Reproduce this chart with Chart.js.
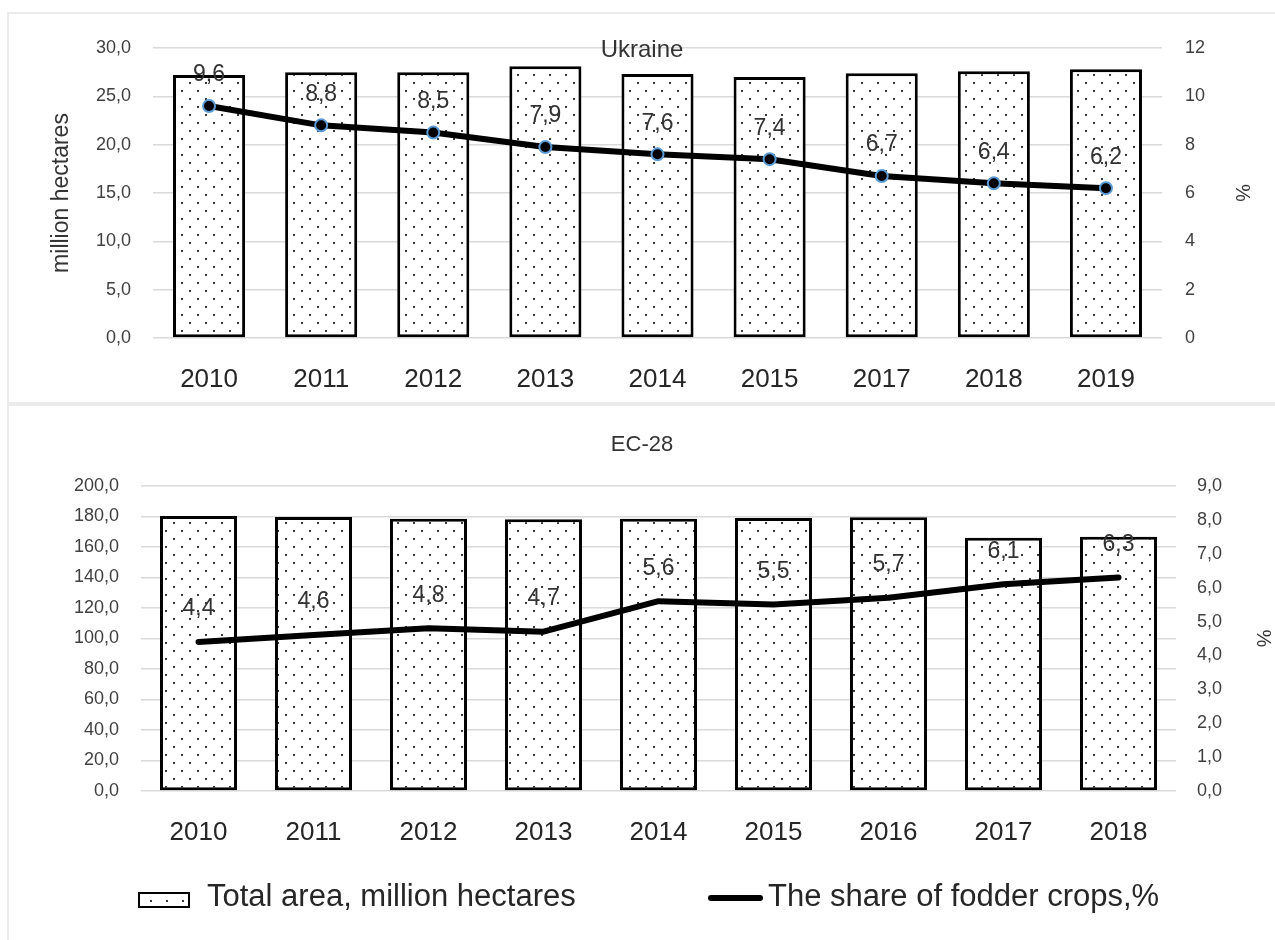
<!DOCTYPE html>
<html>
<head>
<meta charset="utf-8">
<title>Ukraine / EC-28 fodder crops</title>
<script src="https://cdn.jsdelivr.net/npm/chart.js@4.4.1/dist/chart.umd.min.js"></script>
<style>
  html, body { margin: 0; padding: 0; background: #fff; overflow: hidden; }
  body { width: 1275px; height: 940px; position: relative; font-family: "Liberation Sans", Arial, sans-serif; color: #333; }
  .panel { position: absolute; left: 7px; width: 1280px; border: 2px solid #ececec; box-sizing: border-box; }
  #uaPanel { top: 12px; height: 392px; }
  #ecPanel { top: 404px; height: 540px; }
  .panel canvas { position: absolute; left: 0; top: 0; }
  .legend-text { position: absolute; top: 878px; font-size: 31px; line-height: 36px; white-space: nowrap; color: #262626; }
  #swatch { position: absolute; left: 138px; top: 892px; }
  #lineKey { position: absolute; left: 708px; top: 895px; width: 55px; height: 6px; border-radius: 3px; background: #000; }
</style>
</head>
<body>
<div class="panel" id="uaPanel"><canvas id="uaChart" width="1266" height="388"></canvas></div>
<div class="panel" id="ecPanel"><canvas id="ecChart" width="1266" height="534"></canvas></div>

<canvas id="swatch" width="52" height="16"></canvas>
<span class="legend-text" style="left:207px">Total area, million hectares</span>
<div id="lineKey"></div>
<span class="legend-text" style="left:768px">The share of fodder crops,%</span>

<script>
// Ukraine
const uaYears = ["2010", "2011", "2012", "2013", "2014", "2015", "2017", "2018", "2019"];
const uaArea = [27.2, 27.5, 27.5, 28.1, 27.3, 27.0, 27.4, 27.6, 27.8];
const uaShare = [9.6, 8.8, 8.5, 7.9, 7.6, 7.4, 6.7, 6.4, 6.2];
const uaAreaTicks = ["0,0", "5,0", "10,0", "15,0", "20,0", "25,0", "30,0"];
const uaShareTicks = ["0", "2", "4", "6", "8", "10", "12"];

// EC-28
const ecYears = ["2010", "2011", "2012", "2013", "2014", "2015", "2016", "2017", "2018"];
const ecArea = [180.3, 179.7, 178.5, 178.2, 178.5, 179.0, 179.5, 166.0, 166.7];
const ecShare = [4.4, 4.6, 4.8, 4.7, 5.6, 5.5, 5.7, 6.1, 6.3];
const ecAreaTicks = ["0,0", "20,0", "40,0", "60,0", "80,0", "100,0", "120,0", "140,0", "160,0", "180,0", "200,0"];
const ecShareTicks = ["0,0", "1,0", "2,0", "3,0", "4,0", "5,0", "6,0", "7,0", "8,0", "9,0"];

const AREA_LABEL = "Total area, million hectares";
const SHARE_LABEL = "The share of fodder crops,%";

Chart.defaults.font.family = '"Liberation Sans", Arial, sans-serif';
Chart.defaults.color = "#333";

/* ==============================
   DOTTED FILL
============================== */
function makeDots(ctx) {
  const tile = document.createElement("canvas");
  tile.width = 16;
  tile.height = 16;
  const t = tile.getContext("2d");
  t.fillStyle = "#fff";
  t.fillRect(0, 0, 16, 16);
  t.fillStyle = "#3a3a3a";
  t.fillRect(4, 4, 2, 2);
  t.fillRect(12, 12, 2, 2);
  return ctx.createPattern(tile, "repeat");
}

/* ==============================
   PLUGINS
============================== */
const panelTitle = {
  id: "panelTitle",
  afterDraw(chart, args, opts) {
    const ctx = chart.ctx;
    ctx.save();
    ctx.font = `${opts.size}px "Liberation Sans", Arial, sans-serif`;
    ctx.fillStyle = "#333";
    ctx.textAlign = "center";
    ctx.textBaseline = "middle";
    ctx.fillText(opts.text, chart.width / 2, opts.y);
    ctx.restore();
  }
};

const valueLabels = {
  id: "valueLabels",
  afterDatasetsDraw(chart, args, opts) {
    const ctx = chart.ctx;
    ctx.save();
    ctx.font = `${opts.size}px "Liberation Sans", Arial, sans-serif`;
    ctx.fillStyle = "#333";
    ctx.textAlign = "center";
    ctx.textBaseline = "middle";
    chart.data.datasets.forEach((ds, i) => {
      if (ds.type !== "line") return;
      chart.getDatasetMeta(i).data.forEach((pt, j) => {
        const txt = ds.data[j].toFixed(1).replace(".", ",");
        ctx.fillText(txt, pt.x, pt.y - opts.offset);
      });
    });
    ctx.restore();
  }
};

/* ==============================
   CHART BUILDER
============================== */
function buildChart(canvasId, cfg) {
  const ctx = document.getElementById(canvasId).getContext("2d");
  const dots = makeDots(ctx);

  return new Chart(ctx, {
    type: "bar",
    data: {
      labels: cfg.years,
      datasets: [
        {
          type: "line",
          label: SHARE_LABEL,
          data: cfg.share,
          yAxisID: "yShare",
          borderColor: "#000",
          borderWidth: 6,
          borderJoinStyle: "round",
          borderCapStyle: "round",
          tension: 0,
          pointRadius: cfg.markers ? 6 : 0,
          pointBackgroundColor: "#000",
          pointBorderColor: "#5B9BD5",
          pointBorderWidth: 2,
          order: 1
        },
        {
          type: "bar",
          label: AREA_LABEL,
          data: cfg.area,
          yAxisID: "yArea",
          backgroundColor: dots,
          borderColor: "#000",
          borderWidth: 3,
          borderSkipped: false,
          barPercentage: cfg.barPct,
          categoryPercentage: 1,
          order: 2
        }
      ]
    },
    options: {
      responsive: false,
      animation: false,
      events: [],
      layout: { padding: { top: cfg.padTop, left: 0, right: 0, bottom: 0 } },
      plugins: {
        legend: { display: false },
        tooltip: { enabled: false },
        panelTitle: { text: cfg.title, y: cfg.titleY, size: cfg.titleSize },
        valueLabels: { offset: cfg.labelOffset, size: 23 }
      },
      scales: {
        x: {
          grid: { display: false },
          border: { display: false },
          ticks: { font: { size: 26 }, color: "#262626", padding: 18, maxRotation: 0 },
          afterFit: s => { s.height = cfg.xHeight; }
        },
        yArea: {
          position: "left",
          min: 0,
          max: cfg.areaMax,
          ticks: {
            stepSize: cfg.areaStep,
            padding: 22,
            font: { size: 18 },
            color: "#404040",
            callback: (v, i) => cfg.areaTicks[i]
          },
          grid: { color: "#d9d9d9", lineWidth: 1.5, drawTicks: false },
          border: { display: false },
          title: {
            display: !!cfg.leftTitle,
            text: cfg.leftTitle || "",
            font: { size: 23 },
            color: "#333",
            padding: { top: 39, bottom: 0 }
          },
          afterFit: s => { s.width = cfg.leftWidth; }
        },
        yShare: {
          position: "right",
          min: 0,
          max: cfg.shareMax,
          ticks: {
            stepSize: cfg.shareStep,
            padding: cfg.rightPad,
            font: { size: 18 },
            color: "#404040",
            callback: (v, i) => cfg.shareTicks[i]
          },
          grid: { display: false, drawTicks: false },
          border: { display: false },
          title: {
            display: true,
            text: "%",
            font: { size: 20 },
            color: "#333",
            padding: { top: cfg.pctPad, bottom: 0 }
          },
          afterFit: s => { s.width = cfg.rightWidth; }
        }
      }
    },
    plugins: [panelTitle, valueLabels]
  });
}

buildChart("uaChart", {
  years: uaYears, area: uaArea, share: uaShare,
  areaTicks: uaAreaTicks, shareTicks: uaShareTicks,
  areaMax: 30, areaStep: 5, shareMax: 12, shareStep: 2,
  title: "Ukraine", titleY: 36, titleSize: 24,
  leftTitle: "million hectares",
  markers: true, barPct: 0.643, labelOffset: 31,
  padTop: 34, xHeight: 64, leftWidth: 144, rightWidth: 113, rightPad: 23, pctPad: 21
});

buildChart("ecChart", {
  years: ecYears, area: ecArea, share: ecShare,
  areaTicks: ecAreaTicks, shareTicks: ecShareTicks,
  areaMax: 200, areaStep: 20, shareMax: 9, shareStep: 1,
  title: "EC-28", titleY: 39, titleSize: 22,
  leftTitle: null,
  markers: false, barPct: 0.67, labelOffset: 33,
  padTop: 80, xHeight: 149, leftWidth: 132, rightWidth: 99, rightPad: 21, pctPad: 0
});

// legend swatch uses the same dotted fill as the bars
(function drawSwatch() {
  const sw = document.getElementById("swatch").getContext("2d");
  sw.save();
  sw.translate(0, -4);
  sw.fillStyle = makeDots(sw);
  sw.fillRect(0, 4, 52, 16);
  sw.restore();
  sw.strokeStyle = "#000";
  sw.lineWidth = 2;
  sw.strokeRect(1, 1, 50, 14);
})();
</script>
</body>
</html>
